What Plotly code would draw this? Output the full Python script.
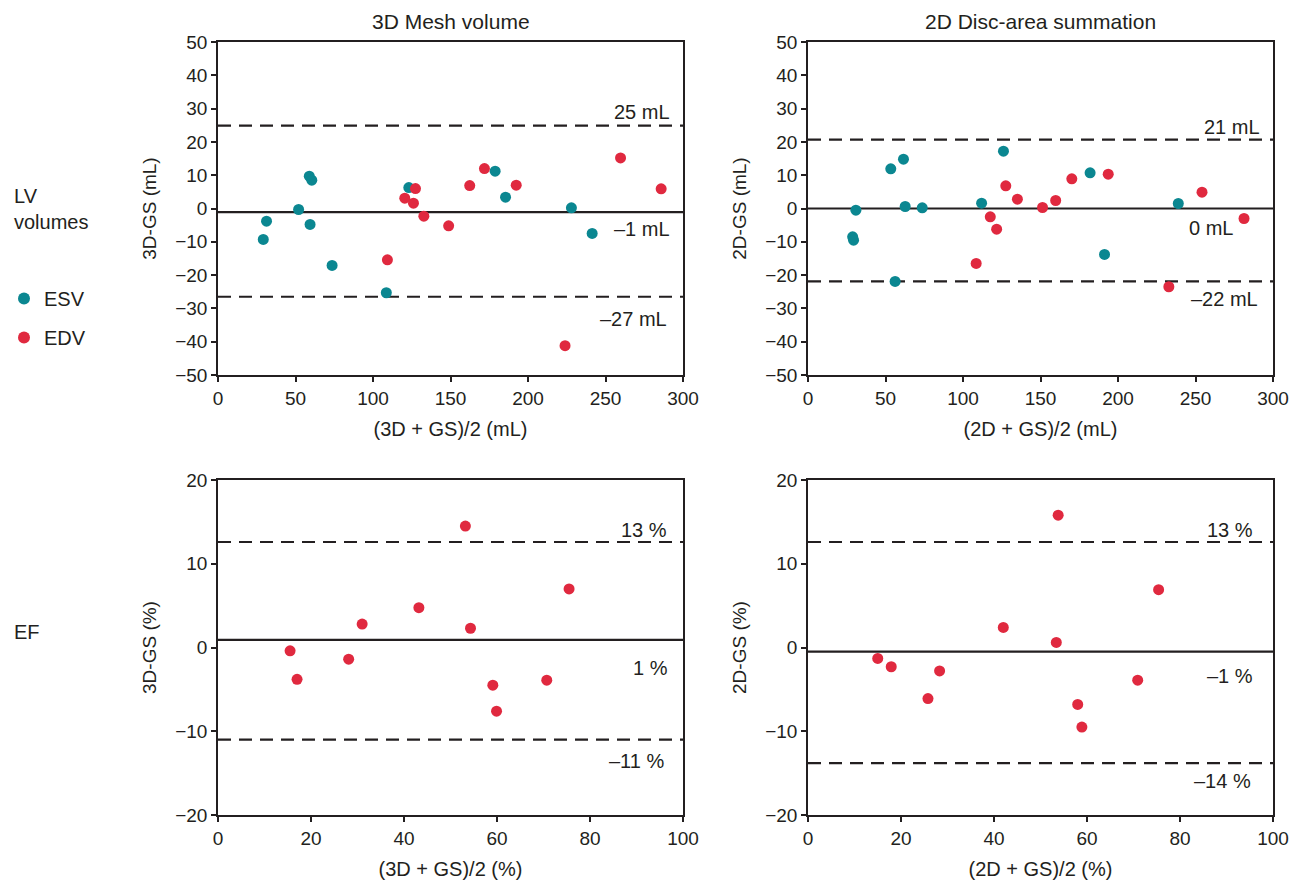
import plotly.graph_objects as go
from plotly.subplots import make_subplots

# ---------------- data ----------------
esv3d_mean = [58.9, 60.5, 31.3, 29.2, 52.0, 59.4, 73.6, 108.6, 123.1, 178.8, 185.5, 228.0, 241.4]
esv3d_diff = [9.7, 8.5, -3.8, -9.3, -0.3, -4.8, -17.1, -25.3, 6.3, 11.2, 3.4, 0.2, -7.5]
edv3d_mean = [127.4, 120.5, 126.1, 132.8, 148.8, 109.3, 162.4, 171.9, 192.4, 259.7, 285.9, 223.9]
edv3d_diff = [6.0, 3.1, 1.6, -2.3, -5.2, -15.4, 6.9, 12.0, 7.0, 15.2, 5.9, -41.2]

esv2d_mean = [30.9, 28.8, 29.4, 53.4, 61.6, 62.7, 73.7, 56.2, 112.0, 126.1, 182.0, 191.3, 238.9]
esv2d_diff = [-0.5, -8.5, -9.5, 11.9, 14.8, 0.6, 0.2, -21.9, 1.6, 17.2, 10.7, -13.8, 1.5]
edv2d_mean = [127.6, 135.1, 117.6, 121.7, 108.5, 151.3, 159.8, 170.2, 193.7, 254.2, 281.3, 232.8]
edv2d_diff = [6.8, 2.8, -2.5, -6.2, -16.5, 0.3, 2.4, 8.9, 10.3, 4.9, -3.0, -23.5]

ef3d_mean = [15.5, 17.0, 28.1, 31.0, 43.2, 53.2, 54.3, 59.1, 59.9, 70.7, 75.5]
ef3d_diff = [-0.4, -3.8, -1.4, 2.8, 4.75, 14.5, 2.3, -4.5, -7.6, -3.9, 7.0]
ef2d_mean = [15.0, 17.9, 25.8, 28.3, 42.0, 53.8, 53.4, 58.0, 58.9, 70.9, 75.4]
ef2d_diff = [-1.3, -2.3, -6.1, -2.8, 2.4, 15.8, 0.6, -6.8, -9.5, -3.9, 6.9]

# limits of agreement: [upper, mean, lower]
loa_vol3d = [24.9, -1.1, -26.5]
loa_vol2d = [20.7, 0.0, -21.9]
loa_ef3d = [12.6, 0.9, -11.0]
loa_ef2d = [12.6, -0.5, -13.8]

lbl_vol3d = ["25 mL", "\u20131 mL", "\u201327 mL"]
lbl_vol2d = ["21 mL", "0 mL", "\u201322 mL"]
lbl_ef3d = ["13 %", "1 %", "\u201311 %"]
lbl_ef2d = ["13 %", "\u20131 %", "\u201314 %"]

col_titles = ["3D Mesh volume", "2D Disc-area summation"]
row_labels = ["LV<br>volumes", "EF"]
x_titles = ["(3D + GS)/2 (mL)", "(2D + GS)/2 (mL)", "(3D + GS)/2 (%)", "(2D + GS)/2 (%)"]
y_titles = ["3D-GS (mL)", "2D-GS (mL)", "3D-GS (%)", "2D-GS (%)"]

# ---------------- style ----------------
TEAL = "#0b8791"
RED = "#e0293f"
INK = "#231f20"
FONT = "Liberation Sans, Arial, Helvetica, sans-serif"

# the page body has an 8px margin, so the figure is sized to fill the window exactly
PAGE_OFF = 8
FW, FH = 1301 - PAGE_OFF, 880 - PAGE_OFF


def px(x):
    return (x - PAGE_OFF) / FW


def py(y):
    return 1 - (y - PAGE_OFF) / FH


fig = make_subplots(rows=2, cols=2)

msize = 11
fig.add_trace(go.Scatter(x=esv3d_mean, y=esv3d_diff, mode="markers", name="ESV",
                         legendgroup="esv", marker=dict(color=TEAL, size=msize)), 1, 1)
fig.add_trace(go.Scatter(x=edv3d_mean, y=edv3d_diff, mode="markers", name="EDV",
                         legendgroup="edv", marker=dict(color=RED, size=msize)), 1, 1)
fig.add_trace(go.Scatter(x=esv2d_mean, y=esv2d_diff, mode="markers", name="ESV", showlegend=False,
                         legendgroup="esv", marker=dict(color=TEAL, size=msize)), 1, 2)
fig.add_trace(go.Scatter(x=edv2d_mean, y=edv2d_diff, mode="markers", name="EDV", showlegend=False,
                         legendgroup="edv", marker=dict(color=RED, size=msize)), 1, 2)
fig.add_trace(go.Scatter(x=ef3d_mean, y=ef3d_diff, mode="markers", name="EF", showlegend=False,
                         marker=dict(color=RED, size=msize)), 2, 1)
fig.add_trace(go.Scatter(x=ef2d_mean, y=ef2d_diff, mode="markers", name="EF", showlegend=False,
                         marker=dict(color=RED, size=msize)), 2, 2)

# panel geometry (paper fractions)
xdom = [[px(218), px(683)], [px(808), px(1273)]]
ydom = [[py(375), py(42)], [py(815), py(480)]]

panels = [
    (1, 1, loa_vol3d, lbl_vol3d, [293, 293, 291], [29.1, -6.1, -33.3], [0, 300], 50, [-50, 50], 10),
    (1, 2, loa_vol2d, lbl_vol2d, [293, 275.5, 291.6], [24.5, -6.0, -27.3], [0, 300], 50, [-50, 50], 10),
    (2, 1, loa_ef3d, lbl_ef3d, [97, 97.3, 96.4], [14.0, -2.4, -13.6], [0, 100], 20, [-20, 20], 10),
    (2, 2, loa_ef2d, lbl_ef2d, [96.1, 96.1, 95.6], [14.0, -3.45, -15.9], [0, 100], 20, [-20, 20], 10),
]

for i, (r, c, loa, lbls, lx, ly, xr, xd, yr, yd) in enumerate(panels):
    for k, v in enumerate(loa):
        fig.add_hline(y=v, row=r, col=c, layer="below",
                      line=dict(color=INK, width=2.2, dash="solid" if k == 1 else "13px,8px"))
        fig.add_annotation(x=lx[k], y=ly[k], text=lbls[k], showarrow=False, xanchor="right",
                           yanchor="middle", font=dict(family=FONT, size=20, color=INK),
                           row=r, col=c)
    fig.update_xaxes(range=xr, dtick=xd, tick0=0, domain=xdom[c - 1], row=r, col=c,
                     title=dict(text=x_titles[i], font=dict(family=FONT, size=20, color=INK), standoff=14))
    fig.update_yaxes(range=yr, dtick=yd, tick0=0, domain=ydom[r - 1], row=r, col=c,
                     title=dict(text=y_titles[i], font=dict(family=FONT, size=19, color=INK), standoff=14))

axis_style = dict(showline=True, linecolor=INK, linewidth=1.5, mirror=True, ticks="outside",
                  ticklen=5, tickwidth=1.5, tickcolor=INK, showgrid=False, zeroline=False,
                  automargin=False, tickfont=dict(family=FONT, size=19, color=INK))
fig.update_xaxes(**axis_style)
fig.update_yaxes(**axis_style)

# column titles (anchored to the top edge of the figure so nothing is clipped)
for c, t in enumerate(col_titles):
    fig.add_annotation(x=(xdom[c][0] + xdom[c][1]) / 2, y=1.0, xref="paper", yref="paper",
                       text=t, showarrow=False, xanchor="center", yanchor="top",
                       font=dict(family=FONT, size=21, color=INK))
# row labels
for t, yp in zip(row_labels, [209, 632]):
    fig.add_annotation(x=px(12), y=py(yp), xref="paper", yref="paper", text=t,
                       showarrow=False, xanchor="left", yanchor="middle", align="left",
                       font=dict(family=FONT, size=20, color=INK))

fig.update_layout(
    width=FW, height=FH,
    margin=dict(l=0, r=0, t=0, b=0, autoexpand=False),
    paper_bgcolor="white", plot_bgcolor="white",
    showlegend=True,
    legend=dict(x=px(4), y=py(279), xanchor="left", yanchor="top",
                font=dict(family=FONT, size=20, color=INK), tracegroupgap=10,
                bgcolor="rgba(0,0,0,0)", itemsizing="constant"),
)

fig.write_html("out.html")
